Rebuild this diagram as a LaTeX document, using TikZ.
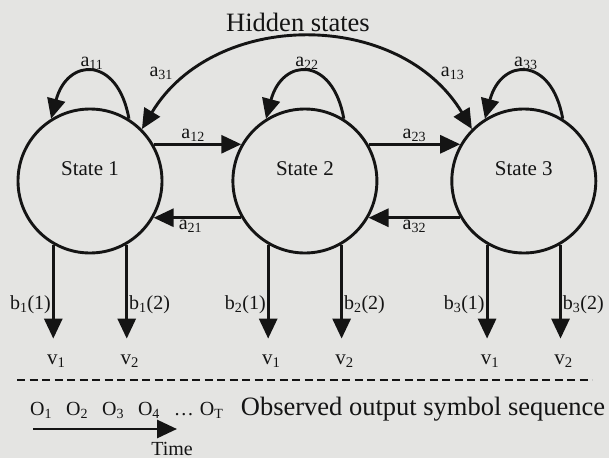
\documentclass[tikz,border=0pt]{standalone}
\usepackage{fontspec}
\setmainfont{Liberation Serif}
\usetikzlibrary{positioning,arrows.meta}
\definecolor{paper}{RGB}{228,228,226}
\definecolor{ink}{RGB}{20,20,20}

\begin{document}
\begin{tikzpicture}[
    x=1pt, y=1pt,
    >={Triangle[length=20pt,width=18pt]},
    state/.style={draw=ink, text=ink, circle, line width=2.9pt, minimum size=144pt, inner sep=0pt, text height=14pt, text depth=26pt, font=\fontsize{21}{24}\selectfont},
    lbl/.style={text=ink, inner sep=1pt, font=\fontsize{20}{22}\selectfont},
    sym/.style={lbl, xshift=3pt, font=\fontsize{21}{24}\selectfont},
    big/.style={text=ink, inner sep=0pt, font=\fontsize{26.5}{30}\selectfont},
    arr/.style={->, draw=ink, line width=2.9pt},
    sep/.style={draw=ink, line width=2.2pt, dash pattern=on 8pt off 4.5pt},
]
\fill[paper] (0,0) rectangle (609,-458);
\useasboundingbox (0,0) rectangle (609,-458);

\node[big] (hidden) at (298,-22) {Hidden states};
\node[state] (s1) at (90,-181) {State 1};
\node[state, right=68pt of s1] (s2) {State 2};
\node[state, right=72pt of s2] (s3) {State 3};

% transitions
\draw[arr] (s1.58) to[out=100,in=75,looseness=2.1] node[lbl,above] {a\textsubscript{11}} (s1.122);
\draw[arr] (s2.58) to[out=100,in=75,looseness=2.1] node[lbl,above] {a\textsubscript{22}} (s2.122);
\draw[arr] (s3.58) to[out=100,in=75,looseness=2.1] node[lbl,above] {a\textsubscript{33}} (s3.122);
\draw[arr] (s1.30) -- node[lbl, above, pos=0.45] {a\textsubscript{12}} (s2.150);
\draw[arr] (s2.210) -- node[lbl, below, pos=0.58] {a\textsubscript{21}} (s1.-30);
\draw[arr] (s2.30) -- node[lbl, above] {a\textsubscript{23}} (s3.150);
\draw[arr] (s3.210) -- node[lbl, below] {a\textsubscript{32}} (s2.-30);
\draw[arr, <->] (s1.45) to[out=59,in=121,looseness=1.09]
    node[lbl, pos=0.13, above left, yshift=6pt] {a\textsubscript{31}}
    node[lbl, pos=0.87, above right, yshift=6pt] {a\textsubscript{13}} (s3.135);

% outputs
\node[sym, below=109pt of s1.-120] (v11) {v\textsubscript{1}};
\node[sym, below=109pt of s1.-60] (v12) {v\textsubscript{2}};
\node[sym, below=109pt of s2.-120] (v21) {v\textsubscript{1}};
\node[sym, below=109pt of s2.-60] (v22) {v\textsubscript{2}};
\node[sym, below=109pt of s3.-120] (v31) {v\textsubscript{1}};
\node[sym, below=109pt of s3.-60] (v32) {v\textsubscript{2}};
\draw[arr, shorten >=15pt] (s1.-120) -- (s1.-120 |- v11.north) node[lbl, pos=0.55, left] {b\textsubscript{1}(1)};
\draw[arr, shorten >=15pt] (s1.-60) -- (s1.-60 |- v12.north) node[lbl, pos=0.55, right] {b\textsubscript{1}(2)};
\draw[arr, shorten >=15pt] (s2.-120) -- (s2.-120 |- v21.north) node[lbl, pos=0.55, left] {b\textsubscript{2}(1)};
\draw[arr, shorten >=15pt] (s2.-60) -- (s2.-60 |- v22.north) node[lbl, pos=0.55, right] {b\textsubscript{2}(2)};
\draw[arr, shorten >=15pt] (s3.-120) -- (s3.-120 |- v31.north) node[lbl, pos=0.55, left] {b\textsubscript{3}(1)};
\draw[arr, shorten >=15pt] (s3.-60) -- (s3.-60 |- v32.north) node[lbl, pos=0.55, right] {b\textsubscript{3}(2)};

% observation sequence
\draw[sep] (17,-380) -- (592,-380);
\node[lbl, anchor=base west] (oseq) at (29,-415) {O\textsubscript{1}\hspace{14pt}O\textsubscript{2}\hspace{14pt}O\textsubscript{3}\hspace{14pt}O\textsubscript{4}\hspace{14pt}\ldots\hspace{6pt}O\textsubscript{T}};
\node[big, base right=16pt of oseq] (observed) {Observed output symbol sequence};
\coordinate (tstart) at (33,-429);
\coordinate (tend) at (177,-429);
\draw[arr] (tstart) -- (tend);
\node[lbl, anchor=base] (time) at (172,-455) {Time};
\end{tikzpicture}
\end{document}
